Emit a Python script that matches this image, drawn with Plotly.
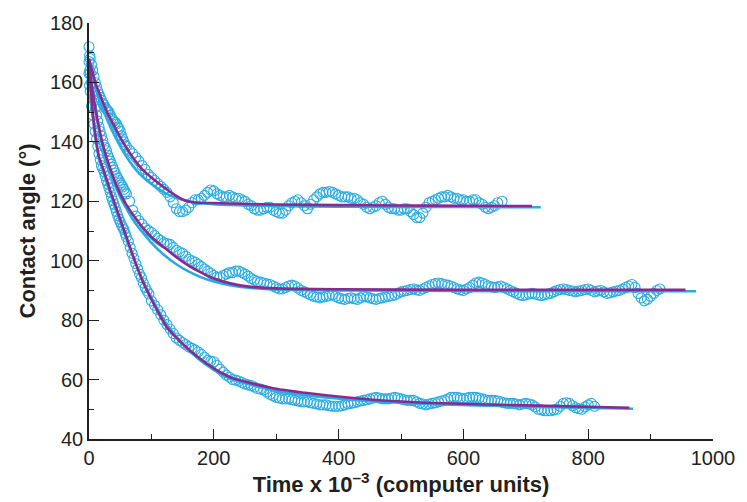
import plotly.graph_objects as go

# ---------------- data: (time x 10^-3, contact angle) ----------------
top_data = [
    (0, 172), (1, 169), (2, 168), (4, 166), (6, 164), (8, 162), (10, 160), (12, 158.5), (14, 157),
    (16, 156), (18, 155), (20, 154), (22, 153), (24, 152.5), (26, 151.5), (28, 151), (30, 150.5),
    (32, 150), (34, 149), (36, 148), (38, 147.5), (40, 147), (42, 146.5), (44, 146), (46, 145),
    (48, 144.5), (50, 143.5), (52, 142), (54, 141), (56, 140), (58, 139), (60, 138.5),
    (65, 137.2), (70, 136), (75, 134.8), (80, 133.5), (85, 132), (90, 130.7), (95, 129), (100, 128),
    (105, 127), (110, 126), (115, 125), (120, 124), (125, 123), (130, 121.5), (135, 119.5),
    (140, 117.5), (145, 116.5), (150, 116.5), (155, 117), (160, 118), (165, 119.5), (170, 120.5),
    (175, 120.5), (180, 121), (185, 122), (190, 123), (195, 123.8), (200, 123.5), (205, 122.5),
    (210, 122), (215, 121.5), (220, 121.5), (225, 122), (230, 121.5), (235, 121), (240, 121),
    (245, 120.5), (250, 120), (255, 119), (260, 118.5), (265, 117.5), (270, 117), (275, 117),
    (280, 117.5), (285, 118), (290, 118), (295, 117), (300, 116.5), (305, 116), (310, 116),
    (315, 117), (320, 118.5), (325, 119.5), (330, 120), (335, 120.5), (340, 119.5), (345, 118.5),
    (350, 117.5), (355, 119), (360, 120.5), (365, 121.5), (370, 122.5), (375, 123), (380, 123),
    (385, 123.3), (390, 123), (395, 122.5), (400, 122), (405, 121.5), (410, 121.5), (415, 121.5),
    (420, 121), (425, 121), (430, 120.5), (435, 119.5), (440, 119), (445, 118), (450, 117.5),
    (455, 118), (460, 118.5), (465, 119.5), (470, 120), (475, 119), (480, 118), (485, 117.5),
    (490, 117.5), (495, 117), (500, 117), (505, 117.5), (510, 117.5), (515, 116.5), (520, 115.5),
    (525, 114.5), (530, 114.5), (535, 116), (540, 118), (545, 119.5), (550, 120), (555, 120.5),
    (560, 121), (565, 121.5), (570, 121.5), (575, 122), (580, 121.5), (585, 121), (590, 121),
    (595, 120.5), (600, 120.5), (605, 120), (610, 120), (615, 120.5), (620, 120.5), (625, 119.5),
    (630, 119), (635, 118), (640, 117.5), (645, 118), (650, 118.5), (655, 119.5), (662, 120),
]

mid_data = [
    (0, 167), (1, 164), (2, 163), (4, 160), (6, 157), (8, 154), (10, 151.5), (12, 149), (14, 147),
    (16, 145), (18, 143.5), (20, 142), (22, 140.5), (24, 139), (26, 138), (28, 137), (30, 135.5),
    (32, 134.5), (34, 133.5), (36, 132.5), (38, 131.5), (40, 130.5), (42, 129.5), (44, 128.5),
    (46, 127.8), (48, 127), (50, 126.2), (52, 125.5), (54, 124.8), (56, 124), (58, 123.2),
    (60, 122.5), (65, 120), (70, 117), (75, 115), (80, 113.5), (85, 112.3), (90, 111), (95, 110.2),
    (100, 109.5), (105, 108.5), (110, 107.5), (115, 106.8), (120, 106), (125, 105.8), (130, 105.5),
    (135, 104.5), (140, 103.5), (145, 103), (150, 102.5), (155, 101.5), (160, 100.5), (165, 100),
    (170, 99.5), (175, 98.8), (180, 98), (185, 97.2), (190, 96.5), (195, 95.8), (200, 95),
    (205, 94.5), (210, 94.5), (215, 95), (220, 95.5), (225, 96), (230, 96), (235, 96.5), (240, 96.5),
    (245, 96), (250, 95.5), (255, 94.8), (260, 94), (265, 93.5), (270, 93), (275, 92.8), (280, 92.5),
    (285, 92.2), (290, 92), (295, 91.5), (300, 91), (305, 90.5), (310, 90.5), (315, 91), (320, 91.5),
    (325, 91.8), (330, 91.5), (335, 90.8), (340, 90), (345, 89.5), (350, 89), (355, 88.5), (360, 88),
    (365, 87.8), (370, 87.5), (375, 87.8), (380, 88), (385, 88.3), (390, 88.5), (395, 88),
    (400, 87.5), (405, 87.2), (410, 87), (415, 87.3), (420, 87.5), (425, 87.2), (430, 87),
    (435, 87.5), (440, 88), (445, 87.8), (450, 87.5), (455, 87.2), (460, 87), (465, 87.3),
    (470, 87.5), (475, 87.8), (480, 88), (485, 88.2), (490, 88.5), (495, 89), (500, 89.5),
    (505, 89.8), (510, 90), (515, 90.3), (520, 90.5), (525, 90.2), (530, 90), (535, 90.5), (540, 91),
    (545, 91.5), (550, 92), (555, 92.3), (560, 92.5), (565, 92.3), (570, 92), (575, 91.8),
    (580, 91.5), (585, 91), (590, 90.5), (595, 90.2), (600, 90), (605, 90.5), (610, 91),
    (615, 91.8), (620, 92.5), (625, 92.8), (630, 92.5), (635, 92), (640, 91.5), (645, 91.2),
    (650, 91), (655, 91.2), (660, 91.5), (665, 91), (670, 90.5), (675, 90), (680, 89.5), (685, 89),
    (690, 88.5), (695, 88.3), (700, 88.5), (705, 88.8), (710, 89), (715, 88.8), (720, 88.5),
    (725, 88.3), (730, 88.5), (735, 88.8), (740, 89), (745, 89.5), (750, 90), (755, 90.3),
    (760, 90.5), (765, 90.3), (770, 90), (775, 89.8), (780, 89.5), (785, 89.8), (790, 90),
    (795, 90.3), (800, 90.5), (805, 90), (810, 89.5), (815, 89.8), (820, 90), (825, 89.5),
    (830, 89), (835, 89.2), (840, 89.5), (845, 89.8), (850, 90), (855, 90.5), (860, 91), (865, 91.5),
    (870, 92), (875, 91), (880, 89), (885, 87.5), (890, 86.5), (895, 87), (900, 88), (905, 89),
    (910, 90), (915, 90.5),
]

bot_data = [
    (0, 163), (1, 159), (2, 157), (4, 152), (6, 149), (8, 146), (10, 143.5), (12, 141), (14, 138.5),
    (16, 136), (18, 134), (20, 132), (22, 131), (24, 130), (26, 128.5), (28, 127), (30, 125.8),
    (32, 124.5), (34, 123), (36, 121.5), (38, 120.2), (40, 119), (42, 117.8), (44, 116.5),
    (46, 115.2), (48, 114), (50, 113), (52, 112), (54, 111.2), (56, 110.5), (58, 109.2), (60, 108),
    (63, 106.5), (66, 104.5), (69, 102.5), (72, 100.8), (75, 99), (78, 97.2), (81, 95.5), (84, 94.3),
    (87, 92.5), (90, 91), (93, 89.8), (96, 88.8), (100, 86.5), (105, 85), (110, 83.5), (115, 81.8),
    (120, 80), (125, 78.5), (130, 77), (135, 75.5), (140, 74), (145, 73.2), (150, 72.5),
    (155, 71.8), (160, 71), (165, 70.5), (170, 70), (175, 69.3), (180, 68.5), (185, 67.5),
    (190, 66.5), (195, 66.2), (200, 66), (205, 64.8), (210, 63.5), (215, 62.5), (220, 61.5),
    (225, 60.8), (230, 60), (235, 59.8), (240, 59.5), (245, 59), (250, 58.5), (255, 58.2), (260, 58),
    (265, 57.5), (270, 57), (275, 56.8), (280, 56.5), (285, 55.8), (290, 55), (295, 54.5), (300, 54),
    (305, 53.8), (310, 53.5), (315, 53.5), (320, 53.5), (325, 53.2), (330, 53), (335, 52.8),
    (340, 52.5), (345, 52.5), (350, 52.5), (355, 52.2), (360, 52), (365, 51.8), (370, 51.5),
    (375, 51.5), (380, 51.5), (385, 51.2), (390, 51), (395, 51), (400, 51), (405, 51.2), (410, 51.5),
    (415, 51.8), (420, 52), (425, 52.2), (430, 52.5), (435, 52.8), (440, 53), (445, 53.2),
    (450, 53.5), (455, 53.8), (460, 54), (465, 53.8), (470, 53.5), (475, 53.5), (480, 53.5),
    (485, 53.8), (490, 54), (495, 53.8), (500, 53.5), (505, 53.2), (510, 53), (515, 53), (520, 53),
    (525, 52.5), (530, 52), (535, 51.8), (540, 51.5), (545, 51.8), (550, 52), (555, 52.2),
    (560, 52.5), (565, 52.8), (570, 53), (575, 53.5), (580, 54), (585, 54), (590, 54), (595, 53.8),
    (600, 53.5), (605, 53.8), (610, 54), (615, 54), (620, 54), (625, 53.8), (630, 53.5),
    (635, 53.2), (640, 53), (645, 53), (650, 53), (655, 52.8), (660, 52.5), (665, 52.2), (670, 52),
    (675, 52), (680, 52), (685, 51.8), (690, 51.5), (695, 51.8), (700, 52), (705, 51.8),
    (710, 51.5), (715, 50.8), (720, 50), (725, 49.8), (730, 49.5), (735, 49.5), (740, 49.5),
    (745, 49.8), (750, 50), (755, 51), (760, 52), (765, 52.2), (770, 52), (775, 51.2), (780, 50.5),
    (785, 50.2), (790, 50), (795, 50.8), (800, 51.5), (805, 52), (810, 51),
]

# fitted curves: purple fit and cyan fit for each series
fit_top_x_p = [0, 10, 20, 30, 40, 50, 60, 70, 80, 90, 100, 110, 120, 130, 140, 150, 160,
               170, 200, 250, 300, 400, 500, 600, 710]
fit_top_p = [168, 160, 154.5, 149.5, 145.5, 141.5, 138, 134.8, 132, 129.8, 128, 126.3,
             124.7, 123.2, 121.8, 120.6, 119.9, 119.6, 119.4, 119.1, 118.9, 118.7, 118.6,
             118.5, 118.4]
fit_top_x_c = [0, 10, 20, 30, 40, 50, 60, 70, 80, 90, 100, 110, 120, 130, 140, 150, 170,
               200, 250, 300, 400, 500, 600, 724]
fit_top_c = [168, 159, 152.5, 147, 142.5, 138.5, 135, 132, 129.5, 127.5, 125.8, 124.3,
             123, 122, 121.2, 120.5, 119.6, 119, 118.6, 118.4, 118.2, 118.1, 118.1, 118.0]

fit_mid_x_p = [0, 5, 10, 15, 20, 25, 30, 40, 50, 60, 70, 80, 90, 100, 120, 140, 160, 180,
               200, 230, 260, 300, 400, 600, 956]
fit_mid_p = [166, 158, 151.5, 146, 141, 137, 133.5, 127.5, 122.5, 118.8, 115.6, 112.8,
             110.2, 108, 104.5, 101.2, 98.3, 96, 94, 92.2, 91.2, 90.7, 90.4, 90.2, 90.2]
fit_mid_x_c = [0, 10, 20, 30, 40, 50, 60, 70, 80, 90, 100, 120, 140, 160, 180, 200, 230,
               260, 300, 400, 600, 973]
fit_mid_c = [166, 151, 140, 132.5, 126.5, 121.5, 117.5, 114, 111, 108.5, 106, 102, 98.8,
             96.3, 94.4, 93, 91.6, 90.8, 90.3, 90, 89.8, 89.7]

fit_bot_x_p = [0, 4, 8, 12, 16, 25, 35, 45, 55, 65, 75, 85, 100, 125, 150, 175, 200, 230,
               260, 300, 380, 450, 540, 700, 866]
fit_bot_p = [166, 155, 146, 139.5, 135, 129.5, 123, 117, 111, 105, 99, 93.5, 87, 77.5, 72,
             67.5, 63.8, 60.5, 58.8, 56.9, 54.7, 53.3, 52.2, 51.3, 50.5]
fit_bot_x_c = [0, 4, 8, 12, 16, 25, 35, 45, 55, 65, 75, 85, 100, 125, 150, 175, 200, 230,
               260, 300, 380, 450, 540, 700, 872]
fit_bot_c = [164, 153, 145, 139, 134.5, 128.5, 122, 116, 110.3, 104.5, 99, 94, 87.5, 78.5,
             72, 67, 63.3, 60, 58.2, 56.2, 54, 52.8, 51.8, 50.9, 50.2]

x_ticks = [0, 200, 400, 600, 800, 1000]
y_ticks = [40, 60, 80, 100, 120, 140, 160, 180]

CYAN = "#29abe2"
PURPLE = "#8b2a8e"
INK = "#231f20"

fig = go.Figure()

for series in (top_data, mid_data, bot_data):
    xs = [p[0] for p in series]
    ys = [p[1] for p in series]
    fig.add_trace(go.Scatter(x=xs, y=ys, mode="markers", cliponaxis=False,
                             marker=dict(symbol="circle-open", size=10, color=CYAN,
                                         line=dict(width=1.1, color=CYAN)),
                             showlegend=False))

for fx, fy in [(fit_top_x_c, fit_top_c), (fit_mid_x_c, fit_mid_c), (fit_bot_x_c, fit_bot_c)]:
    fig.add_trace(go.Scatter(x=fx, y=fy, mode="lines", line=dict(color=CYAN, width=2.6,
                             shape="spline", smoothing=0.6), showlegend=False))

for fx, fy in [(fit_top_x_p, fit_top_p), (fit_mid_x_p, fit_mid_p), (fit_bot_x_p, fit_bot_p)]:
    fig.add_trace(go.Scatter(x=fx, y=fy, mode="lines", line=dict(color=PURPLE, width=2.6,
                             shape="spline", smoothing=0.6), showlegend=False))

font_family = "Liberation Sans, Arial, Helvetica, sans-serif"

fig.update_layout(
    width=747, height=502,
    margin=dict(l=89, r=24, t=16, b=62),
    paper_bgcolor="white", plot_bgcolor="white",
    font=dict(family=font_family, color=INK, size=20),
    xaxis=dict(range=[0, 1000], tickvals=x_ticks, ticks="inside", ticklen=10,
               tickwidth=1.3, tickcolor=INK, showline=True, linecolor=INK, linewidth=1.5,
               showgrid=False, zeroline=False, tickfont=dict(size=20, color=INK),
               minor=dict(dtick=100, tick0=0, ticks="inside", ticklen=5, tickwidth=1.3,
                          tickcolor=INK, showgrid=False),
               title=dict(text="<b>Time x 10<sup>–3</sup> (computer units)</b>",
                          font=dict(size=22, color=INK), standoff=6)),
    yaxis=dict(range=[40, 180], tickvals=y_ticks, ticks="inside", ticklen=10,
               tickwidth=1.3, tickcolor=INK, showline=True, linecolor=INK, linewidth=1.5,
               showgrid=False, zeroline=False, tickfont=dict(size=20, color=INK),
               minor=dict(dtick=10, tick0=0, ticks="inside", ticklen=5, tickwidth=1.3,
                          tickcolor=INK, showgrid=False),
               title=dict(text="<b>Contact angle (°)</b>",
                          font=dict(size=22, color=INK), standoff=8)),
)

fig.write_html("out.html")
